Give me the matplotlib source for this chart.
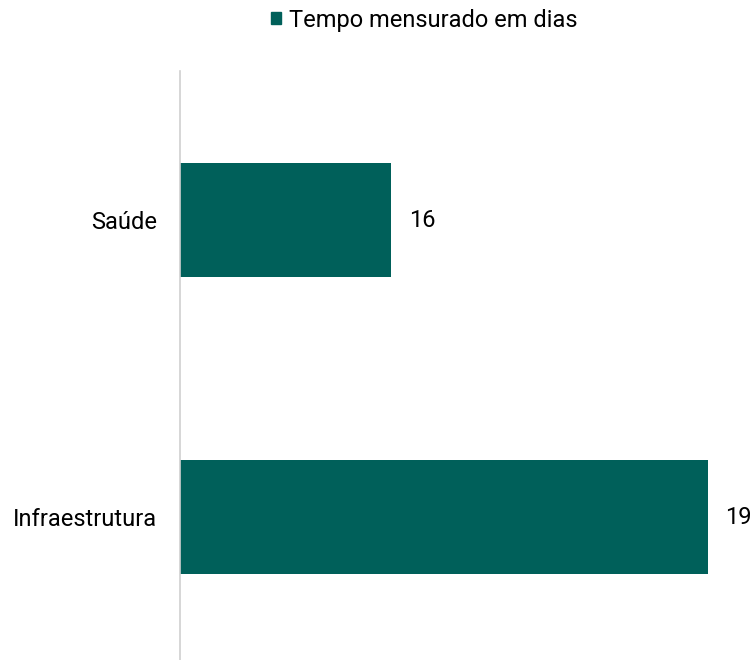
import matplotlib

matplotlib.use("Agg")

import matplotlib.pyplot as plt
from matplotlib.patches import Patch

categories = ["Saúde", "Infraestrutura"]
dias = [16, 19]
serie_label = "Tempo mensurado em dias"

COLOR = "#00605A"
plt.rcParams["font.family"] = ["Roboto", "DejaVu Sans"]

fig = plt.figure(figsize=(7.54, 6.6), dpi=100)
ax = fig.add_axes([180 / 754, 0, 574 / 754, 588.5 / 660])

positions = list(range(len(categories)))
ax.barh(positions, dias, height=0.384, color=COLOR)

ax.set_xlim(14, 14 + 574 / 105.5)
ax.set_ylim(1.48, -0.5)
ax.set_yticks(positions)
ax.set_yticklabels(categories, fontsize=17)
ax.tick_params(axis="y", length=0, pad=16.5)
ax.set_xticks([])

for side in ["top", "right", "bottom"]:
    ax.spines[side].set_visible(False)
ax.spines["left"].set_color("#d0d0d0")
ax.spines["left"].set_linewidth(1.2)

for pos, value in zip(positions, dias):
    ax.text(value + 0.17, pos, str(value), va="center", ha="left", fontsize=17)

fig.legend(
    handles=[Patch(color=COLOR, label=serie_label)],
    loc="center",
    bbox_to_anchor=(424 / 754, 1 - 20 / 660),
    frameon=False,
    fontsize=17,
    handlelength=0.42,
    handleheight=0.42,
    handletextpad=0.34,
)

fig.savefig("out.png", dpi=100)
